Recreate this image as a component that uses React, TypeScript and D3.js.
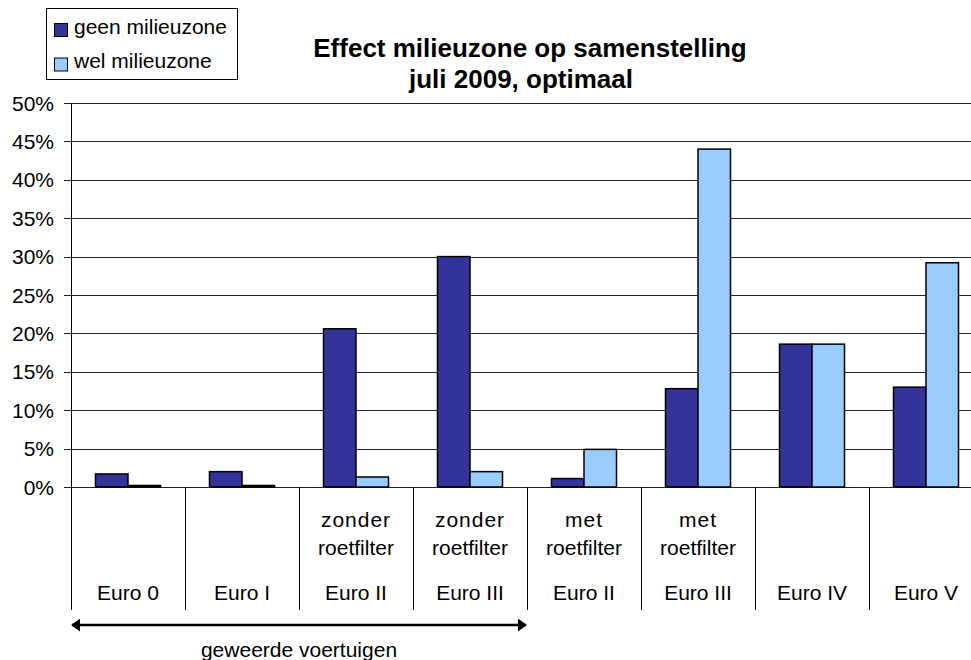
import React from "react";
import * as d3 from "d3";

const categories = ["Euro 0", "Euro I", "Euro II zonder", "Euro III zonder", "Euro II met", "Euro III met", "Euro IV", "Euro V"];
const topLabels = ["", "", "zonder", "zonder", "met", "met", "", ""];
const midLabels = ["", "", "roetfilter", "roetfilter", "roetfilter", "roetfilter", "", ""];
const bottomLabels = ["Euro 0", "Euro I", "Euro II", "Euro III", "Euro II", "Euro III", "Euro IV", "Euro V"];
const seriesNames = ["geen milieuzone", "wel milieuzone"];
const geen = [0.017, 0.02, 0.206, 0.30, 0.011, 0.128, 0.186, 0.130];
const wel = [0.002, 0.002, 0.013, 0.02, 0.049, 0.44, 0.186, 0.292];
const yTicks = [0, 0.05, 0.1, 0.15, 0.2, 0.25, 0.3, 0.35, 0.4, 0.45, 0.5];
const colors = ["#333399", "#99CCFF"];

export default function App() {
  const W = 971, H = 660;
  const left = 71, catW = 114, top = 103, bottom = 487, axisBottom = 610;
  const x0 = d3.scaleBand().domain(categories).range([left, left + catW * categories.length]).padding(0);
  const x1 = d3.scaleBand().domain(seriesNames).range([24.5, catW - 24.5]).padding(0);
  const y = d3.scaleLinear().domain([0, 0.5]).range([bottom, top]);
  const font = "Liberation Sans, Arial, sans-serif";
  const series = [geen, wel];
  return (
    <svg width={W} height={H} style={{ display: "block", position: "absolute", left: 0, top: 0, background: "#fff" }} fontFamily={font}>
      <defs>
        <marker id="ah" viewBox="0 0 10 10" refX="9" refY="5" markerWidth="9" markerHeight="13" orient="auto-start-reverse" markerUnits="userSpaceOnUse" preserveAspectRatio="none">
          <path d="M0,0 L10,5 L0,10 z" fill="#000" />
        </marker>
      </defs>
      {/* gridlines */}
      {yTicks.map((t) => (
        <g key={t}>
          <line x1={left - 7} x2={W} y1={Math.round(y(t)) + 0.5} y2={Math.round(y(t)) + 0.5} stroke="#222" strokeWidth={1} />
          <text x={54} y={y(t) + 7.5} textAnchor="end" fontSize={21} fill="#000">{d3.format(".0%")(t)}</text>
        </g>
      ))}
      {/* bars */}
      {categories.map((c, i) => (
        <g key={c} transform={`translate(${x0(c)},0)`}>
          {series.map((s, j) => (
            <rect key={j} x={x1(seriesNames[j])} y={y(s[i])} width={x1.bandwidth()} height={bottom - y(s[i])}
              fill={colors[j]} stroke="#000" strokeWidth={1.5} />
          ))}
        </g>
      ))}
      {/* axes */}
      <line x1={left + 0.5} x2={left + 0.5} y1={top} y2={axisBottom} stroke="#000" strokeWidth={1} />
      {categories.map((c, i) => (
        <g key={"d" + c}>
          <line x1={x0(c)! + catW + 0.5} x2={x0(c)! + catW + 0.5} y1={bottom} y2={axisBottom} stroke="#000" strokeWidth={1} />
          <text x={x0(c)! + catW / 2} y={527} textAnchor="middle" fontSize={21} letterSpacing={1}>{topLabels[i]}</text>
          <text x={x0(c)! + catW / 2} y={555} textAnchor="middle" fontSize={21}>{midLabels[i]}</text>
          <text x={x0(c)! + catW / 2} y={600} textAnchor="middle" fontSize={21}>{bottomLabels[i]}</text>
        </g>
      ))}
      {/* arrow */}
      <line x1={x0(categories[0])! + 1} x2={x0(categories[3])! + catW - 1} y1={625} y2={625} stroke="#000" strokeWidth={2.5}
        markerStart="url(#ah)" markerEnd="url(#ah)" />
      <text x={(x0(categories[0])! + x0(categories[3])! + catW) / 2} y={657} textAnchor="middle" fontSize={21}>geweerde voertuigen</text>
      {/* title */}
      <text x={530} y={57} textAnchor="middle" fontSize={26} fontWeight="bold">Effect milieuzone op samenstelling</text>
      <text x={521} y={88} textAnchor="middle" fontSize={26} fontWeight="bold">juli 2009, optimaal</text>
      {/* legend */}
      <rect x={46.5} y={8.5} width={191} height={71} fill="#fff" stroke="#000" strokeWidth={1} />
      {seriesNames.map((n, j) => (
        <g key={n}>
          <rect x={54.5} y={23.5 + j * 34.5} width={13} height={13} fill={colors[j]} stroke="#000" strokeWidth={1} />
          <text x={74} y={33.5 + j * 34.5} fontSize={21}>{n}</text>
        </g>
      ))}
    </svg>
  );
}
